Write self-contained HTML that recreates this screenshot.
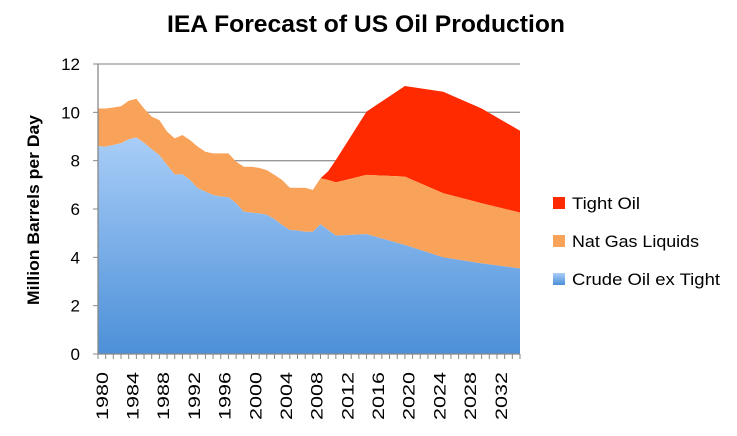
<!DOCTYPE html>
<html><head><meta charset="utf-8"><style>
body{margin:0;background:#fff;}
svg text{font-family:"Liberation Sans",sans-serif;}
</style></head><body>
<svg width="737" height="431" viewBox="0 0 737 431" xmlns="http://www.w3.org/2000/svg">
<defs><linearGradient id="bl" x1="0" y1="0" x2="0" y2="1"><stop offset="0" stop-color="#a9cdf8"/><stop offset="1" stop-color="#4c90d8"/></linearGradient></defs>
<text x="366" y="32" text-anchor="middle" font-size="24" font-weight="bold" textLength="398" lengthAdjust="spacingAndGlyphs">IEA Forecast of US Oil Production</text>
<text transform="translate(39,210) rotate(-90)" text-anchor="middle" font-size="17" font-weight="bold" textLength="190" lengthAdjust="spacingAndGlyphs">Million Barrels per Day</text>
<g id="grid"></g><g id="areas"></g><g id="axes"></g>
<g>
<rect x="553" y="197" width="12" height="12" fill="#ff2a00"/>
<text x="572" y="209" font-size="17" textLength="68" lengthAdjust="spacingAndGlyphs">Tight Oil</text>
<rect x="553" y="235" width="12" height="12" fill="#f9a35a"/>
<text x="572" y="247" font-size="17" textLength="127" lengthAdjust="spacingAndGlyphs">Nat Gas Liquids</text>
<rect x="553" y="273" width="12" height="12" fill="url(#bl)"/>
<text x="572" y="285" font-size="17" textLength="148" lengthAdjust="spacingAndGlyphs">Crude Oil ex Tight</text>
</g>
</svg>
<script>
const years=[1980,1981,1982,1983,1984,1985,1986,1987,1988,1989,1990,1991,1992,1993,1994,1995,1996,1997,1998,1999,2000,2001,2002,2003,2004,2005,2006,2007,2008,2009,2010,2011,2015,2020,2025,2030,2035];
const crude=[8.6,8.58,8.65,8.72,8.88,8.96,8.74,8.47,8.23,7.82,7.43,7.44,7.2,6.86,6.72,6.58,6.51,6.49,6.24,5.89,5.85,5.82,5.76,5.58,5.34,5.13,5.11,5.06,5.06,5.37,5.13,4.9,4.96,4.51,4.0,3.75,3.54];
const ngl=[1.56,1.58,1.55,1.53,1.6,1.6,1.42,1.35,1.45,1.38,1.49,1.62,1.65,1.72,1.65,1.72,1.79,1.81,1.72,1.86,1.9,1.88,1.85,1.83,1.86,1.75,1.77,1.82,1.73,1.9,2.07,2.2,2.45,2.83,2.65,2.49,2.31];
const tight=[0,0,0,0,0,0,0,0,0,0,0,0,0,0,0,0,0,0,0,0,0,0,0,0,0,0,0,0,0,0,0.36,0.93,2.62,3.75,4.2,3.92,3.39];
const yTicks=[0,2,4,6,8,10,12];
const xLabels=[1980,1984,1988,1992,1996,2000,2004,2008,2012,2016,2020,2024,2028,2032];
const L=98,R=520,T=64,B=354,NS="http://www.w3.org/2000/svg";
const X=y=>L+(y-1980)*(R-L)/55, Y=v=>B-v*(B-T)/12;
function mk(t,a,p){const e=document.createElementNS(NS,t);for(const k in a)e.setAttribute(k,a[k]);p.appendChild(e);return e;}
const grid=document.getElementById('grid'),areas=document.getElementById('areas'),axes=document.getElementById('axes');
yTicks.forEach(v=>{
 if(v>0){const g=mk('line',{x1:L,x2:R,y1:Y(v),y2:Y(v),stroke:'#999','stroke-width':1.3},grid);
 
 }
 const t=mk('text',{x:80,y:Y(v)+6,'text-anchor':'end','font-size':17},axes);t.textContent=v;
 
 
 mk('line',{x1:L-5,x2:L,y1:Y(v),y2:Y(v),stroke:'#888'},axes);
});
const c1=crude, c2=crude.map((v,i)=>v+ngl[i]), c3=c2.map((v,i)=>v+tight[i]);
function area(top,bot,fill,name){
 let d='M'+years.map((y,i)=>X(y)+','+Y(top[i])).join('L');
 for(let i=years.length-1;i>=0;i--)d+='L'+X(years[i])+','+Y(bot[i]);
 const p=mk('path',{d:d+'Z',fill:fill},areas);
 
 
}
area(c3,c2,'#ff2a00','area-tight-oil');
area(c2,c1,'#f9a35a','area-ngl');
area(c1,years.map(()=>0),'url(#bl)','area-crude');
mk('line',{x1:L,x2:L,y1:T,y2:B,stroke:'#888','stroke-width':1.3},axes);
mk('line',{x1:L,x2:R,y1:B,y2:B,stroke:'#888','stroke-width':1.3},axes);
for(let y=1980;y<=2035;y++)mk('line',{x1:X(y),x2:X(y),y1:B,y2:B+5,stroke:'#888'},axes);
xLabels.forEach(y=>{const x=X(y)+3.8+6;
 const t=mk('text',{transform:`translate(${x},420) rotate(-90)`,'font-size':17,textLength:48,lengthAdjust:'spacingAndGlyphs'},axes);t.textContent=y;
 
 });
</script>
</body></html>
